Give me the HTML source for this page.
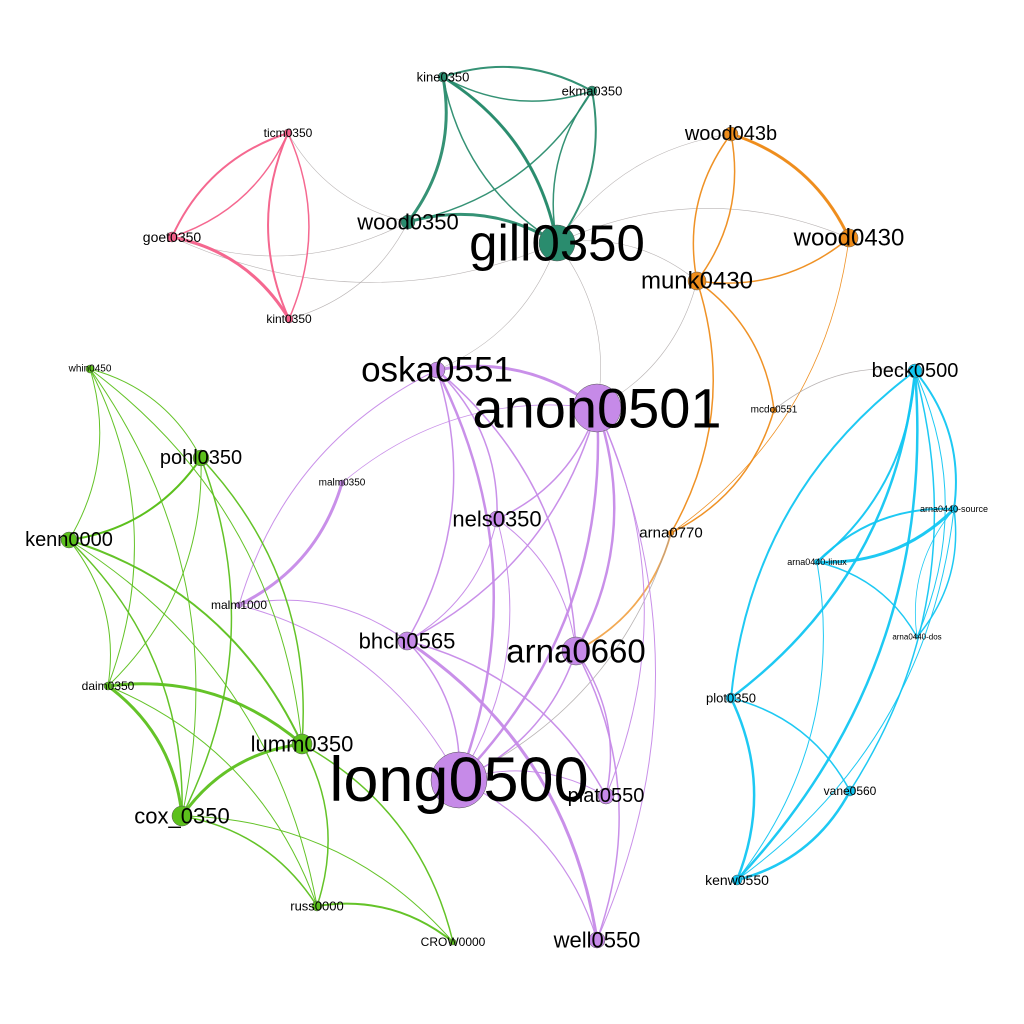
<!DOCTYPE html>
<html><head><meta charset="utf-8"><style>
html,body{margin:0;padding:0;background:#fff;}
svg{display:block;}
text{font-family:"Liberation Sans",sans-serif;fill:#000;text-anchor:middle;dominant-baseline:central;}
</style></head><body>
<svg id="g" width="1024" height="1024" viewBox="0 0 1024 1024">
<rect width="1024" height="1024" fill="#fff"/>
<g id="edges"></g>
<g id="nodes"></g>
<g id="labels"></g>
</svg>
<script>
const nodeNames=["kine0350","ekma0350","wood0350","gill0350","ticm0350","goet0350","kint0350","wood043b","wood0430","munk0430","mcdo0551","arna0770","oska0551","anon0501","nels0350","malm0350","malm1000","bhch0565","arna0660","long0500","plat0550","well0550","beck0500","arna0440-source","arna0440-linux","arna0440-dos","plot0350","vane0560","kenw0550","whin0450","pohl0350","kenn0000","daim0350","lumm0350","cox_0350","russ0000","CROW0000"];
const nodeX=[443,592,408,557,288,172,289,731,849,697,774,671,437,597,497,342,239,407,576,459,606,597,915,954,817,917,731,850,737,90,201,69,108,302,182,317,453];
const nodeY=[77,91,222,243,133,237,319,134,238,281,410,533,370,408,519,483,605,641,651,780,796,940,371,509,562,637,698,791,880,369,458,540,686,744,816,906,942];
const nodeSize=[5,5,7,18,4,5,4,7,9,9,3,3,8,24,8,3,3,9,14,28,8,8,7,4,3,2,5,5,5,4,8,8,4,10,10,5,3];
const labelSize=[13,13,22,51,12,14,12,20,24,24,10,15,35,56,22,10,12,22,33,63,20,22,20,9,9,8,13,12,14,10,20,20,12,22,22,13,12];
const nodeGroup=[0,0,0,0,1,1,1,2,2,2,2,2,3,3,3,3,3,3,3,3,3,3,4,4,4,4,4,4,4,5,5,5,5,5,5,5,5];
const groupColors=["#2a8c6e","#f4608a","#ee8c1a","#c68ae8","#12c6f2","#5cc01c"];
const edgeSrc=["kine0350","kine0350","kine0350","ekma0350","ekma0350","ekma0350","wood0350","kine0350","wood0350","wood0350","wood0350","gill0350","gill0350","gill0350","gill0350","gill0350","gill0350","gill0350","gill0350",
"ticm0350","ticm0350","goet0350","goet0350","kint0350",
"wood043b","wood043b","wood0430","munk0430","munk0430","munk0430","mcdo0551","wood0430","mcdo0551","arna0770","arna0770","wood043b","munk0430",
"oska0551","oska0551","oska0551","oska0551","oska0551","anon0501","anon0501","anon0501","anon0501","anon0501","anon0501","nels0350","nels0350","malm0350","malm1000","malm1000","malm0350","bhch0565","bhch0565","bhch0565","arna0660","arna0660","arna0660","long0500","long0500","nels0350","malm1000",
"beck0500","beck0500","beck0500","beck0500","beck0500","beck0500","arna0440-source","arna0440-source","arna0440-linux","plot0350","plot0350","vane0560","arna0440-linux","arna0440-source","arna0440-linux","arna0440-dos","plot0350",
"whin0450","whin0450","whin0450","whin0450","pohl0350","pohl0350","pohl0350","pohl0350","kenn0000","kenn0000","kenn0000","daim0350","daim0350","cox_0350","lumm0350","lumm0350","cox_0350","cox_0350","russ0000","daim0350","kenn0000","pohl0350","whin0450"];
const edgeTgt=["ekma0350","wood0350","gill0350","gill0350","wood0350","kine0350","gill0350","gill0350","ticm0350","goet0350","kint0350","goet0350","munk0430","wood0430","wood043b","anon0501","oska0551","kine0350","ekma0350",
"goet0350","kint0350","kint0350","ticm0350","ticm0350",
"wood0430","munk0430","munk0430","wood043b","arna0770","mcdo0551","arna0770","arna0770","beck0500","arna0660","long0500","wood0430","anon0501",
"anon0501","nels0350","long0500","bhch0565","arna0660","nels0350","long0500","arna0660","bhch0565","plat0550","well0550","long0500","bhch0565","malm1000","bhch0565","oska0551","anon0501","long0500","well0550","plat0550","long0500","plat0550","well0550","well0550","plat0550","arna0660","long0500",
"arna0440-source","arna0440-linux","arna0440-dos","plot0350","vane0560","kenw0550","arna0440-linux","arna0440-dos","arna0440-dos","vane0560","kenw0550","kenw0550","kenw0550","kenw0550","arna0440-source","arna0440-source","beck0500",
"pohl0350","kenn0000","daim0350","lumm0350","kenn0000","lumm0350","cox_0350","daim0350","lumm0350","cox_0350","daim0350","lumm0350","cox_0350","lumm0350","russ0000","CROW0000","russ0000","CROW0000","CROW0000","russ0000","russ0000","kenn0000","cox_0350"];
const edgeWidth=[2,3,2,2,1.5,1.5,3,3,0.6,0.6,0.6,0.6,0.6,0.6,0.6,0.6,0.6,1.5,1.5,
1.5,1.5,3,2,2,
3,1.5,1.5,1.5,1.5,1.5,1.5,0.8,0.8,1.8,0.8,1.5,0.6,
3,1.5,2.5,1.5,1.5,1.5,2.5,2.5,1.5,1,1,1,1,3,1,1,0.8,1.5,3,1.5,1.5,1.5,1.5,1.2,1,1,1,
2,2,1,2.5,1.5,2.5,3,1.5,1.5,1.5,2.5,2.5,1,1,2,0.8,2,
1,1,1,1,1.5,1.5,1.5,1,2,1.5,1,3,3,3,1.5,1.5,1.5,1,2,1,1,2,1];

const NS="http://www.w3.org/2000/svg";
const idx=n=>nodeNames.indexOf(n);
const eg=document.getElementById('edges'),ng=document.getElementById('nodes'),lg=document.getElementById('labels');
for(let i=0;i<edgeSrc.length;i++){
  const a=idx(edgeSrc[i]),b=idx(edgeTgt[i]);
  if(a<0||b<0)continue;
  const x1=nodeX[a],y1=nodeY[a],x2=nodeX[b],y2=nodeY[b];
  const dx=x2-x1,dy=y2-y1;
  const cx=(x1+x2)/2+dy*0.22,cy=(y1+y2)/2-dx*0.22;
  const p=document.createElementNS(NS,'path');
  p.setAttribute('d',`M${x1},${y1} Q${cx},${cy} ${x2},${y2}`);
  let col=groupColors[nodeGroup[a]];
  if(nodeGroup[a]!==nodeGroup[b]&&edgeWidth[i]<1)col="#a09a9a";
  p.setAttribute('stroke',col);
  p.setAttribute('stroke-width',edgeWidth[i]);
  p.setAttribute('fill','none');
  p.setAttribute('opacity',nodeGroup[a]!==nodeGroup[b]?0.75:0.95);
  
  
  eg.appendChild(p);
}
for(let i=0;i<nodeNames.length;i++){
  const c=document.createElementNS(NS,'circle');
  c.setAttribute('cx',nodeX[i]);c.setAttribute('cy',nodeY[i]);c.setAttribute('r',nodeSize[i]);
  c.setAttribute('fill',groupColors[nodeGroup[i]]);
  c.setAttribute('stroke','#555');c.setAttribute('stroke-width','0.5');
  
  
  ng.appendChild(c);
  const t=document.createElementNS(NS,'text');
  t.setAttribute('x',nodeX[i]);t.setAttribute('y',nodeY[i]);
  t.setAttribute('font-size',labelSize[i]);
  t.textContent=nodeNames[i];
  
  
  lg.appendChild(t);
}
</script>
</body></html>
